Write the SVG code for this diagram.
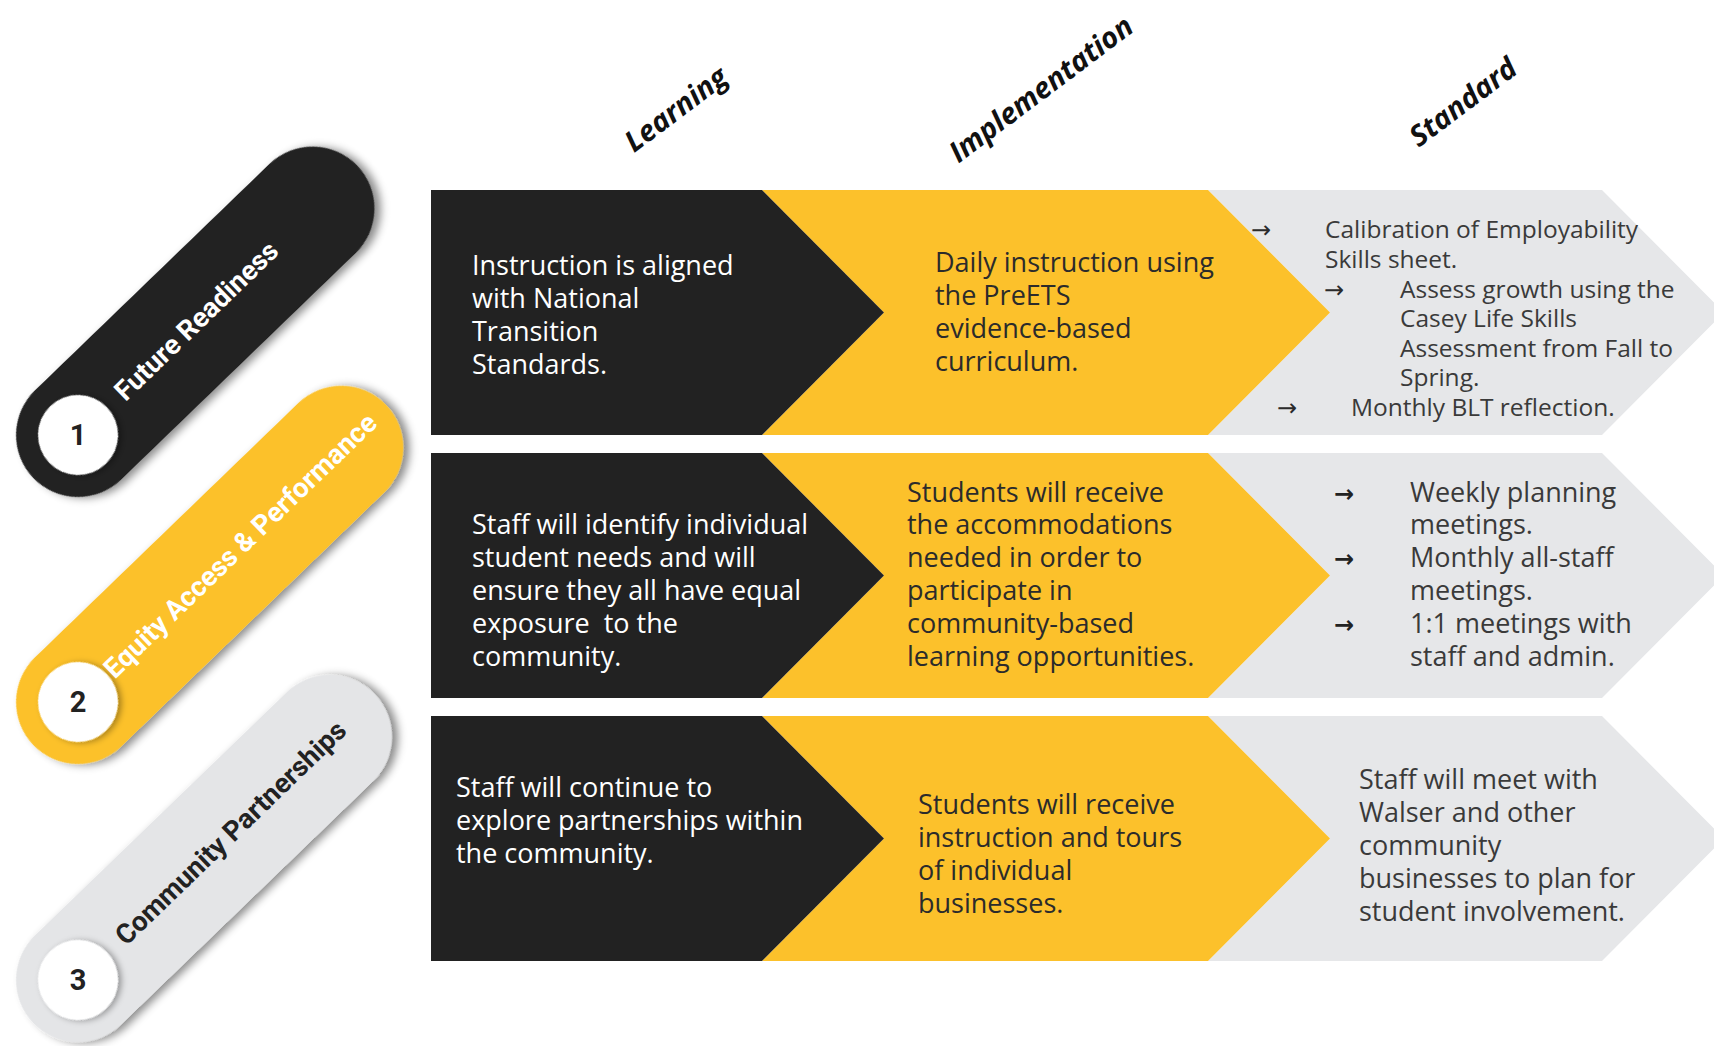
<svg xmlns="http://www.w3.org/2000/svg" width="1714" height="1046" viewBox="0 0 1714 1046">
<defs>
<filter id="sh" x="-20%" y="-20%" width="140%" height="140%">
<feDropShadow dx="4" dy="5" stdDeviation="4" flood-color="#000" flood-opacity="0.45"/>
</filter>
<filter id="shc" x="-30%" y="-30%" width="160%" height="160%">
<feDropShadow dx="2" dy="3" stdDeviation="3" flood-color="#000" flood-opacity="0.35"/>
</filter>
<style>
.blk{fill:#222222}
.yel{fill:#FCC12B}
.gry{fill:#E6E7E9}
.pgry{fill:#E4E5E7}
.tw{font-family:"Open Sans","Liberation Sans",sans-serif;font-size:27px;fill:#ffffff}
.ty{font-family:"Open Sans","Liberation Sans",sans-serif;font-size:27px;fill:#2b2b2b}
.tg{font-family:"Open Sans","Liberation Sans",sans-serif;font-size:27px;fill:#3a3a3a}
.tgs{font-family:"Open Sans","Liberation Sans",sans-serif;font-size:24.5px;fill:#3a3a3a}
.arr{font-family:"DejaVu Sans",sans-serif;font-size:24px;fill:#2b2b2b}
.arrb{font-family:"DejaVu Sans",sans-serif;font-size:24px;font-weight:bold;fill:#222}
.hd{font-family:"Open Sans","Liberation Sans",sans-serif;font-size:29px;font-weight:bold;font-style:italic;fill:#111}
.pl{font-family:Roboto,"Liberation Sans",sans-serif;font-size:27.5px;font-weight:bold}
.num{font-family:Roboto,"Liberation Sans",sans-serif;font-size:29px;font-weight:bold;fill:#222;text-anchor:middle}
</style>
</defs>
<rect width="1714" height="1046" fill="#ffffff"/>

<g id="headers">
<text class="hd" transform="translate(675,108) rotate(-37)" text-anchor="middle" dominant-baseline="central">Learning</text>
<text class="hd" transform="translate(1040,88) rotate(-37)" text-anchor="middle" dominant-baseline="central">Implementation</text>
<text class="hd" transform="translate(1462,101) rotate(-37)" text-anchor="middle" dominant-baseline="central">Standard</text>
</g>

<g id="pill1">
<g transform="translate(78,435) rotate(-44)">
<rect class="blk" x="-62" y="-62" width="450" height="124" rx="62" filter="url(#sh)"/>
<circle cx="0" cy="0" r="40" fill="#ffffff" filter="url(#shc)"/>
<text class="pl" x="57" y="0" dominant-baseline="central" fill="#ffffff">Future Readiness</text>
</g>
<text class="num" x="78" y="445">1</text>
</g>

<g id="pill2">
<g transform="translate(78,702) rotate(-44)">
<rect class="yel" x="-62" y="-62" width="490" height="124" rx="62" filter="url(#sh)"/>
<circle cx="0" cy="0" r="40" fill="#ffffff" filter="url(#shc)"/>
<text class="pl" x="42" y="0" dominant-baseline="central" fill="#ffffff">Equity Access &amp; Performance</text>
</g>
<text class="num" x="78" y="712">2</text>
</g>

<g id="pill3">
<g transform="translate(78,980) rotate(-44)">
<rect class="pgry" x="-62" y="-62" width="474" height="124" rx="62" filter="url(#sh)"/>
<circle cx="0" cy="0" r="40" fill="#ffffff" filter="url(#shc)"/>
<text class="pl" x="58" y="0" dominant-baseline="central" fill="#222222">Community Partnerships</text>
</g>
<text class="num" x="78" y="990">3</text>
</g>

<g id="row1">
<g id="row1-standard">
<polygon class="gry" points="1208,190 1602,190 1724,312.5 1602,435 1208,435 1330,312.5"/>
<text class="arr" x="1251" y="238">→</text>
<text class="arr" x="1324" y="298">→</text>
<text class="arr" x="1277" y="416">→</text>
<text class="tgs"><tspan x="1325" y="238">Calibration of Employability</tspan><tspan x="1325" y="268">Skills sheet.</tspan></text>
<text class="tgs"><tspan x="1400" y="298">Assess growth using the</tspan><tspan x="1400" y="327">Casey Life Skills</tspan><tspan x="1400" y="357">Assessment from Fall to</tspan><tspan x="1400" y="386">Spring.</tspan></text>
<text class="tgs" x="1351" y="416">Monthly BLT reflection.</text>
</g>
<g id="row1-implementation">
<polygon class="yel" points="762,190 1208,190 1330,312.5 1208,435 762,435 884,312.5"/>
<text class="ty"><tspan x="935" y="272">Daily instruction using</tspan><tspan x="935" y="305">the PreETS</tspan><tspan x="935" y="338">evidence-based</tspan><tspan x="935" y="371">curriculum.</tspan></text>
</g>
<g id="row1-learning">
<polygon class="blk" points="431,190 762,190 884,312.5 762,435 431,435"/>
<text class="tw"><tspan x="472" y="275">Instruction is aligned</tspan><tspan x="472" y="308">with National</tspan><tspan x="472" y="341">Transition</tspan><tspan x="472" y="374">Standards.</tspan></text>
</g>
</g>

<g id="row2">
<g id="row2-standard">
<polygon class="gry" points="1208,453 1602,453 1724,575.5 1602,698 1208,698 1330,575.5"/>
<text class="arrb" x="1334" y="502">→</text>
<text class="arrb" x="1334" y="567">→</text>
<text class="arrb" x="1334" y="633">→</text>
<text class="tg"><tspan x="1410" y="502">Weekly planning</tspan><tspan x="1410" y="534">meetings.</tspan><tspan x="1410" y="567">Monthly all-staff</tspan><tspan x="1410" y="600">meetings.</tspan><tspan x="1410" y="633">1:1 meetings with</tspan><tspan x="1410" y="666">staff and admin.</tspan></text>
</g>
<g id="row2-implementation">
<polygon class="yel" points="762,453 1208,453 1330,575.5 1208,698 762,698 884,575.5"/>
<text class="ty"><tspan x="907" y="502">Students will receive</tspan><tspan x="907" y="534">the accommodations</tspan><tspan x="907" y="567">needed in order to</tspan><tspan x="907" y="600">participate in</tspan><tspan x="907" y="633">community-based</tspan><tspan x="907" y="666">learning opportunities.</tspan></text>
</g>
<g id="row2-learning">
<polygon class="blk" points="431,453 762,453 884,575.5 762,698 431,698"/>
<text class="tw" xml:space="preserve"><tspan x="472" y="534">Staff will identify individual</tspan><tspan x="472" y="567">student needs and will</tspan><tspan x="472" y="600">ensure they all have equal</tspan><tspan x="472" y="633">exposure  to the</tspan><tspan x="472" y="666">community.</tspan></text>
</g>
</g>

<g id="row3">
<g id="row3-standard">
<polygon class="gry" points="1208,716 1602,716 1724,838.5 1602,961 1208,961 1330,838.5"/>
<text class="tg"><tspan x="1359" y="789">Staff will meet with</tspan><tspan x="1359" y="822">Walser and other</tspan><tspan x="1359" y="855">community</tspan><tspan x="1359" y="888">businesses to plan for</tspan><tspan x="1359" y="921">student involvement.</tspan></text>
</g>
<g id="row3-implementation">
<polygon class="yel" points="762,716 1208,716 1330,838.5 1208,961 762,961 884,838.5"/>
<text class="ty"><tspan x="918" y="814">Students will receive</tspan><tspan x="918" y="847">instruction and tours</tspan><tspan x="918" y="880">of individual</tspan><tspan x="918" y="913">businesses.</tspan></text>
</g>
<g id="row3-learning">
<polygon class="blk" points="431,716 762,716 884,838.5 762,961 431,961"/>
<text class="tw"><tspan x="456" y="797">Staff will continue to</tspan><tspan x="456" y="830">explore partnerships within</tspan><tspan x="456" y="863">the community.</tspan></text>
</g>
</g>

<g id="connectors"/>
</svg>
